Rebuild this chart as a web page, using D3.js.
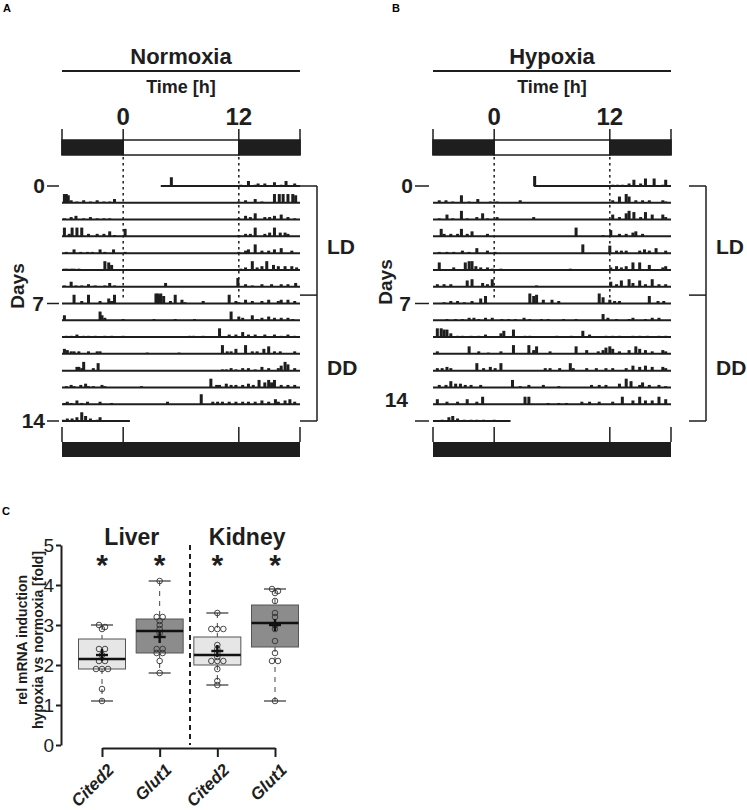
<!DOCTYPE html>
<html>
<head>
<meta charset="utf-8">
<script src="https://cdn.jsdelivr.net/npm/d3@7"></script>
<style>
body { margin: 0; background: #fff; }
svg { display: block; font-family: "Liberation Sans", Arial, sans-serif; }
</style>
</head>
<body>
<svg id="fig" width="747" height="810"></svg>
<script>
// ---------- actogram data (hour of day, activity counts) ----------
var hourDomain = [-6.35, 18.35];
var ldEdges = [-6.35, 0, 12, 18.35];      // dark | light | dark
var ldIsLight = [false, true, false];
var timeTicks = [0, 12];
var dayTicks = [0, 7, 14];
var phaseLabels = ["LD", "DD"];

var normoxiaFirstOn = 3.9, normoxiaLastOff = 0.7;
var hypoxiaFirstOn = 4.1, hypoxiaLastOff = 1.7;

var normoxiaDays = [
  [[5.0,7],[12.2,1],[13.0,4],[13.7,1],[14.0,2],[14.7,2],[15.7,3],[16.4,1],[16.9,4],[17.8,2]],
  [[-6.1,7],[-5.9,7],[-5.7,6],[-5.4,2],[-4.8,1],[-4.1,2],[-3.4,1],[-2.7,2],[-2.0,1],[-1.4,1],[-0.9,3],[12.0,1],[12.7,2],[13.7,3],[14.4,1],[15.7,7],[16.2,7],[16.6,7],[17.1,7],[17.6,7],[17.9,6]],
  [[-6.1,1],[-5.4,2],[-4.9,3],[-4.1,1],[-3.4,2],[-2.7,1],[-2.0,1],[-1.4,1],[12.0,1],[12.7,3],[13.2,2],[13.7,5],[14.7,2],[15.2,2],[15.7,3],[16.4,4],[17.1,2],[17.8,1]],
  [[-6.1,7],[-5.6,2],[-5.3,7],[-4.8,7],[-4.3,7],[-3.6,2],[-2.7,2],[-2.0,2],[-1.4,4],[-0.9,1],[0.2,6],[12.0,1],[12.7,2],[13.2,2],[13.7,7],[14.7,2],[15.2,3],[15.7,7],[16.3,3],[16.8,3],[17.1,2]],
  [[-5.9,1],[-5.1,3],[-4.4,1],[-3.7,1],[-3.2,1],[-2.4,3],[-1.9,1],[-1.0,3],[0.2,1],[12.0,1],[12.7,2],[13.0,3],[13.7,7],[14.4,2],[15.1,2],[15.7,3],[16.4,4],[17.5,2]],
  [[-6.1,1],[-5.8,1],[-5.4,1],[-5.1,1],[-4.6,1],[-1.9,7],[-1.5,6],[-1.2,4],[12.2,1],[12.7,2],[13.4,7],[13.9,2],[14.4,3],[14.9,7],[15.6,4],[16.1,3],[16.8,3],[17.5,3],[18.0,2]],
  [[-6.1,1],[-5.4,4],[-4.9,1],[-4.3,1],[-3.6,2],[-2.9,1],[-1.9,1],[-1.4,3],[-0.9,1],[4.4,3],[11.9,7],[12.7,2],[13.4,1],[14.4,2],[15.4,2],[16.4,2],[17.1,2],[17.9,3]],
  [[-5.1,7],[-4.3,2],[-3.6,7],[-2.4,2],[-1.5,4],[-1.2,2],[-0.9,7],[3.4,8],[3.6,8],[3.7,7],[3.9,8],[4.2,6],[4.9,2],[5.4,7],[6.1,3],[6.4,1],[8.3,2],[11.0,7],[11.7,2],[12.0,1],[12.7,3],[13.4,2],[14.4,2],[15.1,3],[16.1,2],[16.4,3],[17.1,3],[17.8,2]],
  [[-6.1,4],[-2.4,7],[-2.2,4],[-1.9,2],[0.0,1],[3.2,1],[5.4,1],[7.4,1],[11.2,7],[12.0,3],[12.4,2],[13.4,4],[13.9,1],[14.4,2],[15.1,3],[15.7,2],[16.4,2],[17.1,2],[17.6,1]],
  [[-5.9,1],[-5.4,1],[-4.8,2],[-4.1,1],[-3.6,1],[-2.9,1],[-1.9,1],[-1.2,1],[0.0,1],[6.9,1],[7.3,1],[8.3,1],[10.0,7],[11.0,2],[11.7,2],[12.4,4],[13.0,2],[13.7,2],[14.7,2],[15.7,2],[16.4,1],[17.1,2],[17.8,1]],
  [[-6.1,4],[-5.8,3],[-5.4,2],[-5.1,2],[-4.6,2],[-3.6,2],[-2.7,2],[-2.4,2],[2.5,1],[5.8,1],[10.3,7],[10.8,2],[11.2,2],[11.7,4],[12.7,7],[13.4,2],[13.9,2],[14.6,4],[15.1,6],[15.7,2],[16.3,2],[17.8,2]],
  [[-4.8,3],[-4.6,3],[-4.3,2],[-4.1,7],[-3.1,2],[-2.6,6],[10.3,1],[10.7,1],[11.2,2],[11.7,1],[12.4,2],[13.0,2],[13.7,1],[14.4,3],[15.1,2],[16.1,2],[16.4,4],[16.8,7],[17.1,5],[17.8,2]],
  [[-5.9,1],[-5.4,2],[-5.1,1],[-4.4,2],[-3.9,3],[-3.6,1],[-3.1,1],[-2.2,2],[-1.9,1],[1.9,1],[9.1,7],[9.7,2],[10.0,2],[10.7,3],[11.2,2],[11.7,2],[12.4,2],[13.0,3],[13.5,2],[14.1,6],[14.7,4],[15.1,6],[15.4,4],[15.7,6],[16.4,2],[17.1,2],[17.8,2]],
  [[-6.1,1],[-5.8,2],[-5.4,1],[-4.8,3],[-4.3,1],[-3.7,2],[-2.4,2],[-1.2,1],[4.6,2],[8.1,8],[9.3,2],[9.8,2],[10.3,2],[11.0,2],[11.7,2],[12.4,2],[13.0,2],[13.7,2],[14.4,3],[15.1,2],[15.8,4],[16.1,2],[16.8,3],[17.3,4],[17.8,2]],
  [[-6.2,1],[-5.8,2],[-5.3,2],[-4.8,3],[-4.3,7],[-3.9,4],[-3.4,2],[-2.7,1],[-2.4,3]]
];

var hypoxiaDays = [
  [[4.2,8],[12.3,1],[12.8,1],[13.3,1],[14.0,2],[14.5,5],[15.2,2],[15.7,6],[16.6,6],[17.5,1],[17.8,5]],
  [[-5.7,2],[-5.0,2],[-4.3,1],[-3.4,6],[-2.6,1],[-1.7,3],[-0.4,1],[0.3,1],[2.7,2],[12.3,2],[13.0,5],[13.7,7],[14.0,5],[14.7,2],[15.4,2],[16.1,2],[17.5,2],[17.8,1]],
  [[-5.7,1],[-4.9,4],[-4.3,1],[-3.4,7],[-2.8,1],[-1.8,2],[-1.2,5],[-0.7,1],[0.3,2],[4.1,2],[12.3,4],[13.0,2],[13.7,5],[14.0,7],[14.5,6],[15.2,2],[15.7,6],[16.4,4],[17.5,4],[17.8,2]],
  [[-5.5,6],[-5.2,2],[-4.5,2],[-3.8,2],[-3.4,6],[-2.8,2],[-2.3,4],[-0.7,2],[8.5,7],[11.3,1],[12.1,5],[13.0,2],[13.7,2],[14.4,3],[14.7,4],[15.4,2]],
  [[-5.7,1],[-4.9,1],[-4.2,1],[-3.3,2],[-2.6,1],[-1.8,4],[-0.7,2],[0.1,1],[9.2,7],[12.0,6],[12.7,2],[13.2,2],[13.7,2],[15.1,2],[15.6,3],[16.1,2],[16.8,4],[17.8,2]],
  [[-5.7,6],[-4.2,2],[-3.0,6],[-2.6,7],[-2.3,7],[-1.9,3],[-1.4,2],[-0.7,2],[-0.2,1],[0.7,1],[7.9,1],[12.1,2],[12.7,3],[13.2,2],[13.7,3],[14.4,6],[15.1,6],[16.1,4],[17.5,2],[17.8,3]],
  [[-5.9,2],[-5.2,2],[-4.5,2],[-2.8,5],[-2.3,6],[-1.2,3],[-0.7,2],[-0.2,6],[4.4,1],[12.1,4],[12.7,2],[13.2,5],[14.0,6],[14.4,3],[15.1,5],[15.7,2],[16.4,6],[17.1,2],[17.8,2]],
  [[-5.2,1],[-4.5,2],[-3.8,2],[-3.1,1],[-2.3,2],[-1.4,4],[-0.9,6],[3.7,8],[4.1,6],[4.4,7],[5.1,3],[6.0,3],[6.7,2],[10.9,8],[11.3,5],[12.0,3],[12.5,2],[13.0,2],[16.1,6],[17.0,2],[17.6,2]],
  [[-4.9,1],[-4.0,1],[-3.3,1],[-2.6,2],[-2.1,2],[-1.6,1],[-0.9,2],[-0.2,2],[0.8,1],[1.5,1],[2.2,1],[3.1,2],[3.7,1],[4.9,1],[5.6,1],[7.2,1],[8.5,1],[11.3,5],[11.8,2],[12.7,1],[14.0,1],[14.4,2],[15.7,1],[16.4,2],[17.1,2]],
  [[-5.9,7],[-5.5,7],[-5.2,6],[-4.9,6],[-4.5,3],[-3.8,1],[-3.3,1],[-2.4,1],[-1.6,1],[-0.9,2],[0.7,3],[1.0,5],[2.0,6],[3.2,1],[3.7,1],[6.5,1],[8.0,1],[9.2,5],[9.9,2],[11.6,1],[12.3,1],[13.0,1],[14.4,1],[15.1,1],[15.9,1],[17.1,1],[17.8,1]],
  [[-5.9,2],[-2.6,6],[-1.6,2],[-0.6,1],[0.7,2],[2.0,7],[3.6,7],[4.1,3],[4.4,6],[5.8,2],[8.5,6],[9.6,3],[10.8,2],[11.3,3],[11.6,5],[12.0,6],[12.3,4],[13.0,2],[14.0,3],[14.7,6],[15.1,4],[15.7,3],[16.4,2],[17.5,3],[17.8,2]],
  [[-5.9,2],[-5.4,2],[-4.9,3],[-4.5,2],[-1.8,6],[-1.1,2],[-0.4,3],[0.1,2],[0.7,6],[5.3,2],[5.8,2],[6.8,2],[7.9,6],[8.2,2],[9.6,2],[10.6,2],[11.6,2],[12.3,2],[13.7,2],[14.4,4],[15.1,3],[15.7,4],[16.4,3],[17.5,3],[17.8,2]],
  [[-5.7,2],[-5.0,2],[-4.5,5],[-4.0,3],[-3.5,3],[-3.0,2],[-2.4,2],[-1.4,2],[1.9,6],[2.7,1],[3.6,2],[5.1,2],[6.7,1],[10.1,2],[10.9,2],[11.6,2],[13.0,3],[13.7,7],[14.2,5],[15.1,2],[15.4,4],[16.1,2],[17.1,2],[17.8,1]],
  [[-5.9,4],[-4.9,2],[-3.8,2],[-2.8,4],[-1.8,2],[-1.2,6],[3.2,6],[3.6,6],[5.6,1],[6.7,1],[7.5,1],[9.1,2],[9.9,2],[10.9,2],[12.3,2],[13.3,6],[14.4,3],[15.1,6],[15.7,3],[16.4,3],[17.1,6],[17.8,4]],
  [[-5.4,1],[-4.7,3],[-4.3,4],[-3.8,2],[-3.1,1],[-2.4,1],[-1.8,1],[-1.1,1],[0.0,1]]
];

// ---------- box plot data (fold induction) ----------
var tissues = ["Liver", "Kidney"];
var genes = ["Cited2", "Glut1", "Cited2", "Glut1"];
var boxQ1 = [1.9, 2.3, 2.0, 2.45];
var boxMedian = [2.15, 2.85, 2.25, 3.05];
var boxQ3 = [2.65, 3.15, 2.7, 3.5];
var boxMean = [2.25, 2.7, 2.35, 3.0];
var whiskerLow = [1.1, 1.8, 1.5, 1.1];
var whiskerHigh = [3.0, 4.1, 3.3, 3.9];
var foldPoints = [
  [3.0, 2.95, 2.9, 2.4, 2.4, 2.25, 2.1, 2.1, 1.9, 1.9, 1.9, 1.4, 1.1],
  [4.1, 3.2, 3.2, 3.1, 3.0, 2.9, 2.8, 2.4, 2.4, 2.3, 2.3, 2.1, 1.8],
  [3.3, 2.9, 2.9, 2.9, 2.5, 2.4, 2.3, 2.2, 2.1, 2.1, 2.1, 1.9, 1.6, 1.5],
  [3.9, 3.85, 3.8, 3.6, 3.3, 3.2, 3.0, 2.9, 2.6, 2.3, 2.1, 2.1, 1.1]
];
var yTicks = [0, 1, 2, 3, 4, 5];
var boxFills = ["#e6e6e6", "#8c8c8c", "#e6e6e6", "#8c8c8c"];

var svg = d3.select("#fig");
var ink = "#1e1e1e";

// ================= actograms =================
function actogram(o) {
  var x = d3.scaleLinear().domain(hourDomain).range([o.left, o.left + 238]);
  var y = d3.scaleLinear().domain([0, 14]).range([186, 421]);
  var hgt = d3.scaleLinear().domain([0, 8]).range([0, 10]);
  var g = svg.append("g");
  var x0 = x.range()[0], x1 = x.range()[1], cx = (x0 + x1) / 2;

  g.append("text").attr("x", o.letterX).attr("y", 12)
    .attr("font-size", 11).attr("font-weight", "bold").text(o.letter);

  g.append("text").attr("x", cx).attr("y", 64).attr("text-anchor", "middle")
    .attr("font-size", 22).attr("font-weight", "bold").attr("fill", ink).text(o.title);
  g.append("line").attr("x1", x0).attr("x2", x1).attr("y1", 71).attr("y2", 71)
    .attr("stroke", ink).attr("stroke-width", 2);
  g.append("text").attr("x", cx).attr("y", 93).attr("text-anchor", "middle")
    .attr("font-size", 18).attr("font-weight", "bold").attr("fill", ink).text("Time [h]");

  g.selectAll(".tl").data(timeTicks).enter().append("text")
    .attr("x", d => x(d)).attr("y", 125).attr("text-anchor", "middle")
    .attr("font-size", 24).attr("font-weight", "bold").attr("fill", ink).text(d => d);

  // light / dark bar on top
  g.selectAll(".ld").data(ldIsLight).enter().append("rect")
    .attr("x", (d, i) => x(ldEdges[i])).attr("width", (d, i) => x(ldEdges[i + 1]) - x(ldEdges[i]))
    .attr("y", 140).attr("height", 15)
    .attr("fill", d => d ? "#fff" : ink).attr("stroke", ink).attr("stroke-width", 1.5);
  g.selectAll(".ldt").data(ldEdges).enter().append("line")
    .attr("x1", d => x(d)).attr("x2", d => x(d)).attr("y1", 129).attr("y2", 155)
    .attr("stroke", ink).attr("stroke-width", 1.5);

  // dashed lines at lights on / off for LD days
  g.selectAll(".dash").data(timeTicks).enter().append("line")
    .attr("x1", d => x(d)).attr("x2", d => x(d)).attr("y1", 157).attr("y2", 298)
    .attr("stroke", ink).attr("stroke-width", 1.5).attr("stroke-dasharray", "2.5,3.5");

  // day rows
  var rows = g.selectAll(".row").data(o.days).enter().append("g")
    .attr("transform", (d, i) => "translate(0," + y(i) + ")");
  rows.append("line")
    .attr("x1", (d, i) => i === 0 ? x(o.firstOn) : x0)
    .attr("x2", (d, i) => i === o.days.length - 1 ? x(o.lastOff) : x1)
    .attr("stroke", ink).attr("stroke-width", 2);
  rows.selectAll("rect").data(d => d).enter().append("rect")
    .attr("x", d => x(d[0]) - 1.5).attr("width", 3)
    .attr("y", d => -hgt(d[1])).attr("height", d => hgt(d[1]))
    .attr("fill", ink);

  // day labels
  g.append("text").attr("transform", "translate(" + o.daysX + "," + o.daysY + ") rotate(-90)")
    .attr("text-anchor", "middle").attr("font-size", 19).attr("font-weight", "bold")
    .attr("fill", ink).text("Days");
  dayTicks.forEach(function (d, k) {
    var ly = y(d) + o.labelShift[k];
    g.append("text").attr("x", o.labelX[k]).attr("y", ly + 7).attr("text-anchor", "end")
      .attr("font-size", 21).attr("font-weight", "bold").attr("fill", ink).text(d);
    g.append("line").attr("x1", o.dashX[0]).attr("x2", o.dashX[1])
      .attr("y1", y(d)).attr("y2", y(d)).attr("stroke", ink).attr("stroke-width", 1.5);
  });

  // LD / DD bracket
  var bx = x1 + o.bracketGap + o.bracketLen;
  var marks = [0, 6.5, 14];
  g.append("line").attr("x1", bx).attr("x2", bx).attr("y1", y(0)).attr("y2", y(14))
    .attr("stroke", ink).attr("stroke-width", 1.5);
  g.selectAll(".bm").data(marks).enter().append("line")
    .attr("x1", x1 + o.bracketGap).attr("x2", bx).attr("y1", d => y(d)).attr("y2", d => y(d))
    .attr("stroke", ink).attr("stroke-width", 1.5);
  g.selectAll(".ph").data(phaseLabels).enter().append("text")
    .attr("x", bx + 10).attr("y", (d, i) => i === 0 ? 254 : 375)
    .attr("font-size", 21).attr("font-weight", "bold").attr("fill", ink).text(d => d);

  // bottom bar: constant darkness
  g.append("rect").attr("x", x0).attr("width", x1 - x0).attr("y", 442).attr("height", 15).attr("fill", ink);
  g.selectAll(".bt").data(ldEdges).enter().append("line")
    .attr("x1", d => x(d)).attr("x2", d => x(d)).attr("y1", 427).attr("y2", 442)
    .attr("stroke", ink).attr("stroke-width", 1.5);
}

actogram({
  left: 62, letter: "A", letterX: 3, title: "Normoxia",
  days: normoxiaDays, firstOn: normoxiaFirstOn, lastOff: normoxiaLastOff,
  daysX: 24, daysY: 286, labelX: [45, 44, 45], labelShift: [0, 0, 0], dashX: [47, 59],
  bracketGap: 0, bracketLen: 17
});
actogram({
  left: 433, letter: "B", letterX: 392, title: "Hypoxia",
  days: hypoxiaDays, firstOn: hypoxiaFirstOn, lastOff: hypoxiaLastOff,
  daysX: 392, daysY: 282, labelX: [413, 411, 408], labelShift: [0, 0, -21], dashX: [415, 429],
  bracketGap: 18, bracketLen: 17
});

// ================= box plot =================
var gy = d3.scaleLinear().domain([0, 5]).range([745, 545]);
var gx = d3.scalePoint().domain(d3.range(genes.length)).range([102, 275]);
var c = svg.append("g");
var boxW = 47;

c.append("text").attr("x", 2).attr("y", 515).attr("font-size", 11).attr("font-weight", "bold").text("C");

c.append("g").attr("transform", "translate(61,0)")
  .call(d3.axisLeft(gy).tickValues(yTicks).tickFormat(d3.format("d")).tickSize(5).tickSizeOuter(0).tickPadding(2))
  .call(a => a.selectAll("path,line").attr("stroke", ink).attr("stroke-width", 2))
  .call(a => a.selectAll("text").attr("font-size", 19).attr("font-family", "Liberation Sans, Arial, sans-serif").attr("fill", ink));

c.append("g").attr("transform", "translate(0,748)")
  .call(d3.axisBottom(gx).tickSize(9).tickSizeOuter(0).tickFormat(""))
  .call(a => a.selectAll("path,line").attr("stroke", ink).attr("stroke-width", 2));

c.selectAll(".gl").data(genes).enter().append("text")
  .attr("transform", (d, i) => "translate(" + (gx(i) + 13) + ",771) rotate(-45)")
  .attr("text-anchor", "end").attr("font-size", 17).attr("font-weight", "bold")
  .attr("font-style", "italic").attr("fill", ink).text(d => d);

var ytitle = c.append("text").attr("transform", "translate(27,640) rotate(-90)")
  .attr("text-anchor", "middle").attr("font-size", 14).attr("font-weight", "bold").attr("fill", ink);
ytitle.append("tspan").attr("x", 0).attr("dy", 0).text("rel mRNA induction");
ytitle.append("tspan").attr("x", 0).attr("dy", 16).text("hypoxia vs normoxia [fold]");

// separator
c.append("line").attr("x1", 190).attr("x2", 190).attr("y1", 545).attr("y2", 745)
  .attr("stroke", ink).attr("stroke-width", 2).attr("stroke-dasharray", "5,4");

c.selectAll(".tt").data(tissues).enter().append("text")
  .attr("x", (d, i) => (gx(2 * i) + gx(2 * i + 1)) / 2 + 1).attr("y", 545)
  .attr("text-anchor", "middle").attr("font-size", 23).attr("font-weight", "bold").attr("fill", ink).text(d => d);

c.selectAll(".ast").data(genes).enter().append("text")
  .attr("x", (d, i) => gx(i)).attr("y", 575).attr("text-anchor", "middle")
  .attr("font-size", 30).attr("font-weight", "bold").attr("fill", ink).text("*");

function swarm(vals) {
  var s = vals.slice().sort(d3.descending), out = [], i = 0;
  while (i < s.length) {
    var j = i;
    while (j + 1 < s.length && s[i] - s[j + 1] < 0.08) j++;
    var n = j - i + 1;
    for (var k = 0; k < n; k++) out.push({ v: s[i + k], off: (k - (n - 1) / 2) * 6 });
    i = j + 1;
  }
  return out;
}

genes.forEach(function (gene, i) {
  var cx = gx(i), b = c.append("g");
  // whiskers
  b.append("line").attr("x1", cx).attr("x2", cx).attr("y1", gy(whiskerHigh[i])).attr("y2", gy(boxQ3[i]))
    .attr("stroke", "#444").attr("stroke-width", 1).attr("stroke-dasharray", "5,5");
  b.append("line").attr("x1", cx).attr("x2", cx).attr("y1", gy(boxQ1[i])).attr("y2", gy(whiskerLow[i]))
    .attr("stroke", "#444").attr("stroke-width", 1).attr("stroke-dasharray", "5,5");
  [whiskerHigh[i], whiskerLow[i]].forEach(function (w) {
    b.append("line").attr("x1", cx - 11).attr("x2", cx + 11).attr("y1", gy(w)).attr("y2", gy(w))
      .attr("stroke", "#333").attr("stroke-width", 1.2);
  });
  b.append("rect").attr("x", cx - boxW / 2).attr("width", boxW)
    .attr("y", gy(boxQ3[i])).attr("height", gy(boxQ1[i]) - gy(boxQ3[i]))
    .attr("fill", boxFills[i]).attr("stroke", "#555").attr("stroke-width", 1);
  // points
  b.selectAll("circle").data(swarm(foldPoints[i])).enter().append("circle")
    .attr("cx", d => cx + d.off).attr("cy", d => gy(d.v)).attr("r", 2.8)
    .attr("fill", "none").attr("stroke", "#333").attr("stroke-width", 0.9);
  b.append("line").attr("x1", cx - boxW / 2).attr("x2", cx + boxW / 2)
    .attr("y1", gy(boxMedian[i])).attr("y2", gy(boxMedian[i]))
    .attr("stroke", "#111").attr("stroke-width", 2.6);
  // mean cross
  b.append("line").attr("x1", cx - 6).attr("x2", cx + 6).attr("y1", gy(boxMean[i])).attr("y2", gy(boxMean[i]))
    .attr("stroke", "#111").attr("stroke-width", 2.4);
  b.append("line").attr("x1", cx).attr("x2", cx).attr("y1", gy(boxMean[i]) - 6).attr("y2", gy(boxMean[i]) + 6)
    .attr("stroke", "#111").attr("stroke-width", 2.4);
});
</script>
</body>
</html>
